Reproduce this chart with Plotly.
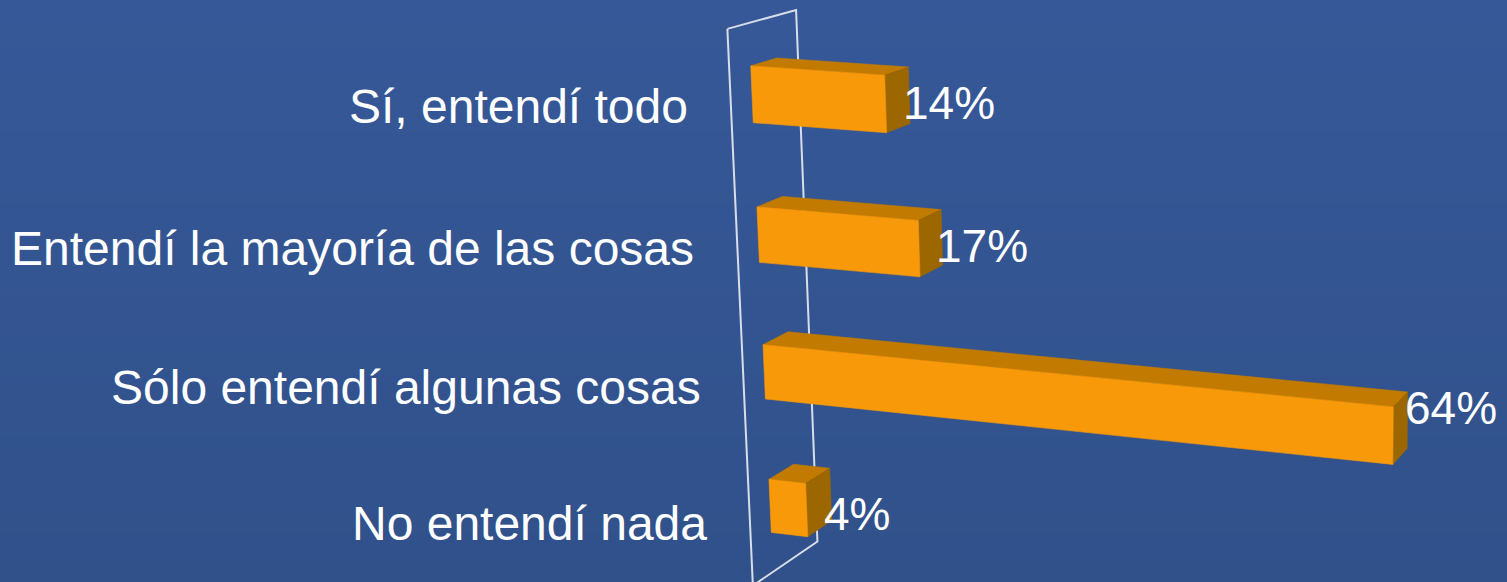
import numpy as np
import plotly.graph_objects as go

# Survey answers and their shares (percent)
categories = [
    "Sí, entendí todo",
    "Entendí la mayoría de las cosas",
    "Sólo entendí algunas cosas",
    "No entendí nada",
]
values = [14, 17, 64, 4]
value_labels = [f"{v}%" for v in values]

W, H = 1507, 582

# Perspective camera for the 3-D bar scene:
# world X = value (%), Y = category row (0, -1, -2, ...), Z = depth (0 front, 1 back of bar)
CAMERA = np.array([
    [8.660152331927396, -14.962197307289657, 40.507406862678316, 751.9925532900338],
    [0.5855347725155848, -143.05764996099276, -6.786602288532089, 94.3573269079825],
    [-0.001000282619660453, -0.011585790755028469, 0.018998315436613233, 1.0],
])
HALF_BAR = 0.2          # half the bar thickness, in row units
WALL_Y = (0.5, -3.5)    # vertical extent of the side wall
WALL_Z = (-0.8, 1.85)   # depth extent of the side wall


def project(x, y, z):
    h = CAMERA @ np.array([x, y, z, 1.0])
    return h[0] / h[2], h[1] / h[2]


def poly(points):
    xy = [project(*p) for p in points]
    xy.append(xy[0])
    return [p[0] for p in xy], [p[1] for p in xy]


FRONT = "#F8990A"
TOP = "#C27B00"
SIDE = "#9C6600"
BG_TOP = np.array([54, 88, 152])
BG_BOTTOM = np.array([48, 81, 138])

fig = go.Figure()

# side wall outline at value 0
wx, wy = poly([
    (0, WALL_Y[0], WALL_Z[0]),
    (0, WALL_Y[0], WALL_Z[1]),
    (0, WALL_Y[1], WALL_Z[1]),
    (0, WALL_Y[1], WALL_Z[0]),
])
fig.add_trace(go.Scatter(x=wx, y=wy, mode="lines",
                         line=dict(color="#D8DEE9", width=2),
                         hoverinfo="skip", showlegend=False))

# 3-D bars: front, top and end faces
for i, v in enumerate(values):
    yc = -i
    yt, yb = yc + HALF_BAR, yc - HALF_BAR
    faces = [
        ([(0, yt, 0), (v, yt, 0), (v, yt, 1), (0, yt, 1)], TOP),
        ([(v, yt, 0), (v, yt, 1), (v, yb, 1), (v, yb, 0)], SIDE),
        ([(0, yt, 0), (v, yt, 0), (v, yb, 0), (0, yb, 0)], FRONT),
    ]
    for pts, col in faces:
        px, py = poly(pts)
        fig.add_trace(go.Scatter(x=px, y=py, mode="lines", fill="toself",
                                 fillcolor=col, line=dict(color=col, width=0.6),
                                 hoverinfo="skip", showlegend=False))

annotations = []
for i, (cat, v, lab) in enumerate(zip(categories, values, value_labels)):
    yc = -i
    lx, ly = project(0, yc, WALL_Z[0])
    annotations.append(dict(
        x=lx - 41, y=ly + 5, xref="x", yref="y", text=cat, showarrow=False,
        xanchor="right", yanchor="middle",
        font=dict(family="Liberation Sans, Arial", size=48, color="white")))
    ex, ey = project(v, yc, 0.5)
    annotations.append(dict(
        x=ex + 3, y=(ey + ly + 8) / 2 - 1, xref="x", yref="y", text=lab,
        showarrow=False, xanchor="left", yanchor="middle",
        font=dict(family="Liberation Sans, Arial", size=46, color="white")))

# vertical background gradient
shapes = []
n_bands = 48
for k in range(n_bands):
    t = k / (n_bands - 1)
    c = (BG_TOP * (1 - t) + BG_BOTTOM * t).round().astype(int)
    shapes.append(dict(type="rect", xref="paper", yref="paper",
                       x0=0, x1=1, y0=1 - (k + 1) / n_bands, y1=1 - k / n_bands + 0.001,
                       fillcolor=f"rgb({c[0]},{c[1]},{c[2]})", line=dict(width=0),
                       layer="below"))

fig.update_layout(
    width=W, height=H,
    margin=dict(l=0, r=0, t=0, b=0),
    paper_bgcolor="rgb(51,85,145)",
    plot_bgcolor="rgba(0,0,0,0)",
    xaxis=dict(range=[0, W], visible=False, fixedrange=True),
    yaxis=dict(range=[H, 0], visible=False, fixedrange=True),
    annotations=annotations,
    shapes=shapes,
    showlegend=False,
)

fig.write_html("out.html")
